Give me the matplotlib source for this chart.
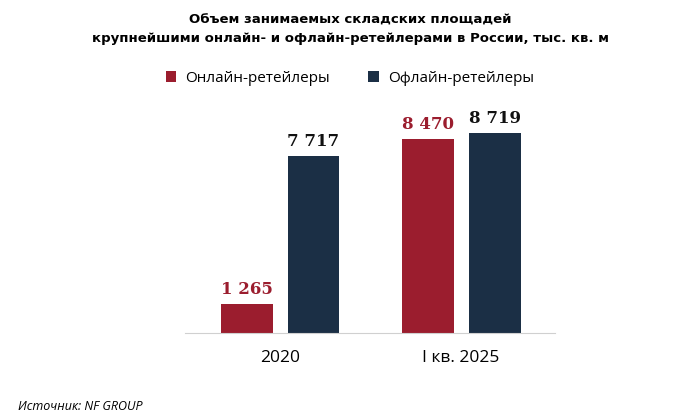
import matplotlib
matplotlib.use("Agg")
import matplotlib.pyplot as plt
import numpy as np

categories = ["2020", "I кв. 2025"]
online = [1265, 8470]
offline = [7717, 8719]
series_names = ["Онлайн-ретейлеры", "Офлайн-ретейлеры"]
red = "#9B1D2E"
navy = "#1B2F45"

def fmt(v):
    return f"{v:,}".replace(",", " ")

fig = plt.figure(figsize=(7, 4.18), dpi=100)
ax = fig.add_axes([185/700, 1-333/418, 370/700, 273/418])
x = np.arange(len(categories))
w = 0.287
off = 0.185
b1 = ax.bar(x - off, online, w, color=red, label=series_names[0])
b2 = ax.bar(x + off, offline, w, color=navy, label=series_names[1])
for bars, col in ((b1, red), (b2, "#111111")):
    for r in bars:
        ax.text(r.get_x() + r.get_width()/2, r.get_height() + 250, fmt(int(r.get_height())),
                ha="center", va="bottom", fontsize=12, fontweight="bold",
                family="DejaVu Serif", color=col)
ax.set_xlim(-0.525, 1.519)
ax.set_ylim(0, 11900)
ax.set_yticks([])
for s in ["top", "right", "left"]:
    ax.spines[s].set_visible(False)
ax.spines["bottom"].set_color("#d0d0d0")
ax.set_xticks(x)
ax.set_xticklabels(categories, fontsize=12.5, family="Open Sans")
ax.tick_params(axis="x", length=0, pad=12)

fig.text(0.5, 1-14/418, "Объем занимаемых складских площадей\nкрупнейшими онлайн- и офлайн-ретейлерами в России, тыс. кв. м",
         ha="center", va="top", fontsize=9.5, fontweight="bold", family="DejaVu Sans", linespacing=1.5)
fig.legend(handles=[b1, b2], loc="center", bbox_to_anchor=(0.5, 1-78/418), ncol=2, frameon=False,
           prop={"family": "Open Sans", "size": 11}, handlelength=0.7, handleheight=0.7,
           columnspacing=2.5, handletextpad=0.6)
fig.text(18/700, 1-406/418, "Источник: NF GROUP", fontsize=9, style="italic", family="Open Sans", va="center")
fig.savefig("out.png", dpi=100)
